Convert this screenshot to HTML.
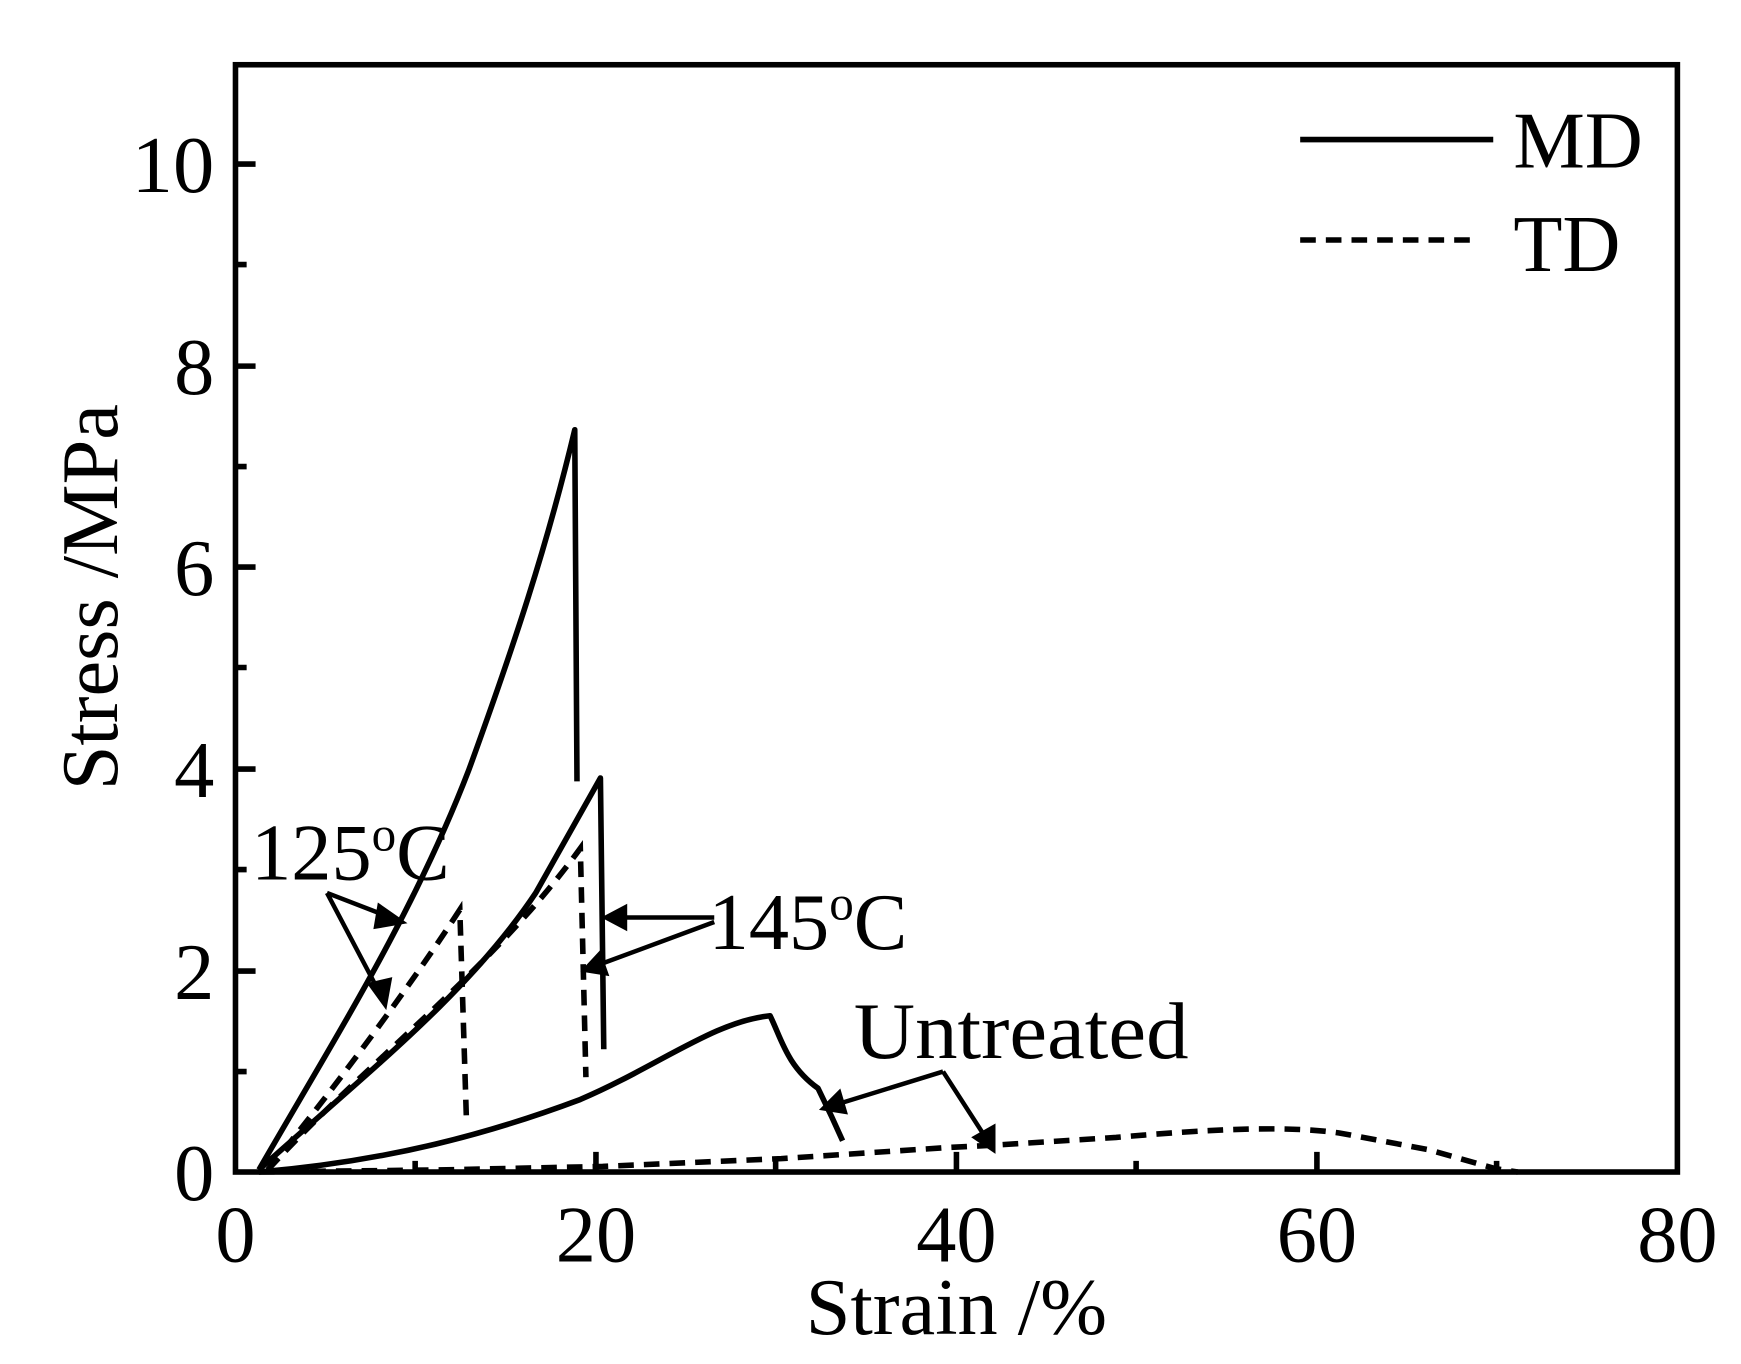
<!DOCTYPE html>
<html><head><meta charset="utf-8"><style>html,body{margin:0;padding:0;background:#fff}svg{display:block}</style></head>
<body>
<svg width="1741" height="1364" viewBox="0 0 1560 1222" preserveAspectRatio="none" xmlns="http://www.w3.org/2000/svg" font-family="Liberation Serif, serif">
<rect width="1560" height="1222" fill="#fff"/>
<g stroke="#000" stroke-width="5" fill="none">
<rect x="211" y="58" width="1292" height="992"/>
<path d="M534 1050v-18M857 1050v-18M1180 1050v-18M372 1050v-10M695 1050v-10M1018 1050v-10M1341 1050v-10"/>
<path d="M211 870h18M211 689h18M211 508h18M211 328h18M211 147h18M211 960h10M211 779h10M211 598h10M211 418h10M211 237h10"/>
</g>
<g stroke="#000" stroke-width="5" fill="none" stroke-linejoin="round">
<path d="M232 1048 C300 930 370 820 420 690 C460 580 490 490 515 385 L517 700"/>
<path d="M232 1048 C330 960 420 890 480 800 L538 697 L541 940"/>
<path d="M232 1050 C350 1040 440 1015 520 985 C590 955 640 915 690 910 C700 930 705 955 733 975 L745 1000 L755 1022"/>
</g>
<g stroke="#000" stroke-width="5" fill="none" stroke-dasharray="14,9">
<path d="M240 1048 C300 975 370 880 412 815 L418 1005"/>
<path d="M240 1048 C330 950 440 870 520 760 L525 965"/>
<path d="M232 1050 L400 1048 L540 1045 L700 1038 L850 1028 L890 1026 L1000 1019 C1080 1012 1150 1008 1200 1015 L1280 1030 L1340 1047 L1360 1050"/>
</g>
<g stroke="#000" stroke-width="4" fill="#000">
<path d="M293 800 L350 822 M293 800 L342 893 M640 822 L552 822 M640 826 L532 866 M845 960 L748 990 M845 960 L885 1022" fill="none"/>
<path d="M360 826 L340 812 L337 830Z"/>
<path d="M345 900 L332 882 L349 878Z"/>
<path d="M543 822 L560 813 L560 831Z"/>
<path d="M524 869 L537 855 L543 872Z"/>
<path d="M738 993 L752 979 L757 996Z"/>
<path d="M890 1030 L874 1019 L890 1010Z"/>
</g>
<g font-size="72" fill="#000">
<text x="192" y="1075" text-anchor="end">0</text>
<text x="192" y="895" text-anchor="end">2</text>
<text x="192" y="714" text-anchor="end">4</text>
<text x="192" y="533" text-anchor="end">6</text>
<text x="192" y="353" text-anchor="end">8</text>
<text x="192" y="172" text-anchor="end" textLength="74" lengthAdjust="spacingAndGlyphs">10</text>
<text x="211" y="1130" text-anchor="middle">0</text>
<text x="534" y="1130" text-anchor="middle">20</text>
<text x="857" y="1130" text-anchor="middle">40</text>
<text x="1180" y="1130" text-anchor="middle">60</text>
<text x="1503" y="1130" text-anchor="middle">80</text>
<text x="857" y="1195" text-anchor="middle">Strain /%</text>
<text transform="translate(105,535) rotate(-90)" text-anchor="middle">Stress /MPa</text>
<text x="1356" y="150">MD</text>
<text x="1356" y="243">TD</text>
<text x="225" y="788">125<tspan font-size="44" dy="-26">o</tspan><tspan dy="26">C</tspan></text>
<text x="635" y="850">145<tspan font-size="44" dy="-26">o</tspan><tspan dy="26">C</tspan></text>
<text x="765" y="948" textLength="300" lengthAdjust="spacingAndGlyphs">Untreated</text>
</g>
<path d="M1165 125H1338" stroke="#000" stroke-width="5"/>
<path d="M1165 215H1325" stroke="#000" stroke-width="5" stroke-dasharray="14,9"/>
</svg>
</body></html>
